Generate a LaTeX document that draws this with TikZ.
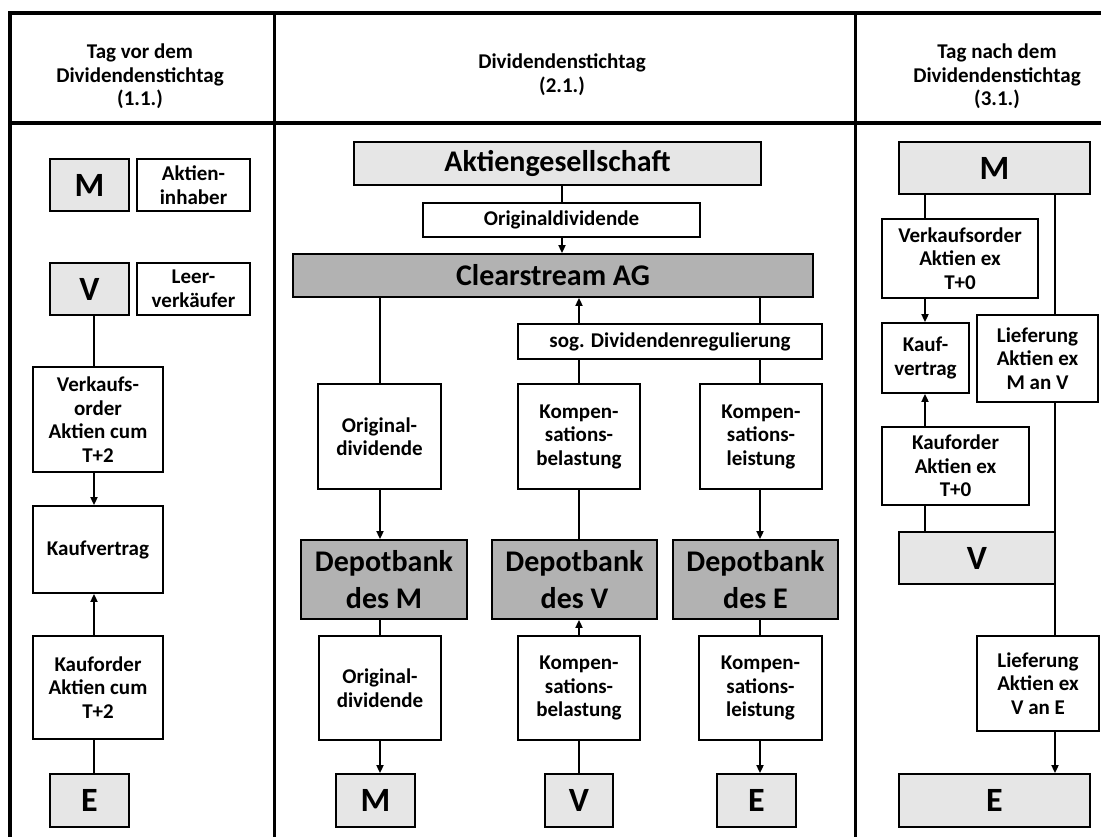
\documentclass[tikz,border=0pt]{standalone}
\usepackage{fontspec}
\setmainfont{Carlito}
\usetikzlibrary{arrows.meta}
\definecolor{lightg}{RGB}{230,230,230}
\definecolor{darkg}{RGB}{178,178,178}
\tikzset{
  box/.style={draw=black, line width=1.8pt, fill=white, align=center, inner sep=1pt,
    font=\bfseries\fontsize{21}{23.5}\selectfont},
  lbox/.style={box, fill=lightg, font=\bfseries\fontsize{34}{38}\selectfont},
  bigl/.style={box, fill=lightg, font=\bfseries\fontsize{30}{37}\selectfont},
  bigd/.style={box, fill=darkg, font=\bfseries\fontsize{30}{37}\selectfont},
  conn/.style={line width=1.8pt},
  arr/.style={line width=1.8pt, -{Triangle[length=8pt,width=7pt]}},
  frame/.style={line width=3.5pt},
  divider/.style={line width=3pt},
  htext/.style={align=center, inner sep=0pt, font=\bfseries\fontsize{21}{23.5}\selectfont}
}
\begin{document}
\begin{tikzpicture}[x=1pt,y=-1pt]
\useasboundingbox (0,0) rectangle (1101,837);
\clip (0,0) rectangle (1101,837);
% frame
\draw[frame] (8.25,13) -- (1105,13);
\draw[frame] (8.25,123) -- (1105,123);
\draw[frame] (10,11.25) -- (10,840);
\draw[divider] (274,13) -- (274,840);
\draw[divider] (855,13) -- (855,840);
% headers
\node[htext] (h1) at (140,76.5) {Tag vor dem\\Dividendenstichtag\\(1.1.)};
\node[htext] (h2) at (562,74.5) {Dividendenstichtag\\(2.1.)};
\node[htext] (h3) at (997,76.5) {Tag nach dem\\Dividendenstichtag\\(3.1.)};
% column line helpers
\coordinate (cL) at (94,0);
\coordinate (cA) at (562,0);
\coordinate (c1) at (380,0);
\coordinate (c2) at (579,0);
\coordinate (c3) at (760,0);
\coordinate (cR1) at (925,0);
\coordinate (cR2) at (1055,0);
% left column
\node[lbox, minimum width=79pt, minimum height=52pt] (lM) at (89.5,185) {M};
\node[box, minimum width=113pt, minimum height=52pt] (lMt) at (193.5,185) {Aktien-\\inhaber};
\node[lbox, minimum width=79pt, minimum height=52pt] (lV) at (89.5,289) {V};
\node[box, minimum width=113pt, minimum height=52pt] (lVt) at (193.5,289) {Leer-\\verkäufer};
\node[box, minimum width=130pt, minimum height=105pt] (lVO) at (98,419.5) {Verkaufs-\\order\\Aktien cum\\T+2};
\node[box, minimum width=130pt, minimum height=87pt] (lKV) at (98,549.5) {Kaufvertrag};
\node[box, minimum width=130pt, minimum height=103pt] (lKO) at (98,687.5) {Kauforder\\Aktien cum\\T+2};
\node[lbox, minimum width=79pt, minimum height=53pt] (lE) at (89.5,800.5) {E};
\draw[conn] (lV.south -| cL) -- (lVO.north -| cL);
\draw[arr] (lVO.south -| cL) -- (lKV.north -| cL);
\draw[arr] (lKO.north -| cL) -- (lKV.south -| cL);
\draw[conn] (lE.north -| cL) -- (lKO.south -| cL);
% middle column
\node[bigl, minimum width=407pt, minimum height=43pt] (akt) at (557.5,163.5) {Aktiengesellschaft};
\node[box, minimum width=277pt, minimum height=34pt] (od0) at (561.5,220) {Originaldividende};
\node[bigd, minimum width=520pt, minimum height=43pt] (cs) at (553,275.5) {Clearstream AG};
\node[box, minimum width=304pt, minimum height=35pt] (sog) at (670,341.5) {sog. Dividendenregulierung};
\node[box, minimum width=123pt, minimum height=105pt] (od1) at (379.5,436.5) {Original-\\dividende};
\node[box, minimum width=122pt, minimum height=105pt] (kb1) at (579,436.5) {Kompen-\\sations-\\belastung};
\node[box, minimum width=122pt, minimum height=105pt] (kl1) at (761,436.5) {Kompen-\\sations-\\leistung};
\node[bigd, minimum width=166pt, minimum height=79pt] (dm) at (384,579.5) {Depotbank\\des M};
\node[bigd, minimum width=165pt, minimum height=79pt] (dv) at (574.5,579.5) {Depotbank\\des V};
\node[bigd, minimum width=165pt, minimum height=79pt] (de) at (755.5,579.5) {Depotbank\\des E};
\node[box, minimum width=122pt, minimum height=104pt] (od2) at (380,688) {Original-\\dividende};
\node[box, minimum width=122pt, minimum height=104pt] (kb2) at (579,688) {Kompen-\\sations-\\belastung};
\node[box, minimum width=123pt, minimum height=104pt] (kl2) at (760.5,688) {Kompen-\\sations-\\leistung};
\node[lbox, minimum width=79pt, minimum height=53pt] (mm) at (375.5,800.5) {M};
\node[lbox, minimum width=68pt, minimum height=53pt] (mv) at (579,800.5) {V};
\node[lbox, minimum width=79pt, minimum height=53pt] (me) at (756.5,800.5) {E};
\draw[conn] (akt.south -| cA) -- (od0.north -| cA);
\draw[arr] (od0.south -| cA) -- (cs.north -| cA);
\draw[conn] (cs.south -| c1) -- (od1.north -| c1);
\draw[arr] (od1.south -| c1) -- (dm.north -| c1);
\draw[conn] (dm.south -| c1) -- (od2.north -| c1);
\draw[arr] (od2.south -| c1) -- (mm.north -| c1);
\draw[arr] (sog.north -| c2) -- (cs.south -| c2);
\draw[conn] (kb1.north -| c2) -- (sog.south -| c2);
\draw[conn] (kb1.south -| c2) -- (dv.north -| c2);
\draw[arr] (kb2.north -| c2) -- (dv.south -| c2);
\draw[conn] (mv.north -| c2) -- (kb2.south -| c2);
\draw[conn] (cs.south -| c3) -- (sog.north -| c3);
\draw[conn] (sog.south -| c3) -- (kl1.north -| c3);
\draw[arr] (kl1.south -| c3) -- (de.north -| c3);
\draw[conn] (de.south -| c3) -- (kl2.north -| c3);
\draw[arr] (kl2.south -| c3) -- (me.north -| c3);
% right column
\node[lbox, minimum width=191pt, minimum height=52pt] (rM) at (994.5,168) {M};
\node[box, minimum width=156pt, minimum height=79pt] (rVO) at (960,258.5) {Verkaufsorder\\Aktien ex\\T+0};
\node[box, minimum width=87pt, minimum height=70pt] (rKV) at (925.5,358) {Kauf-\\vertrag};
\node[box, minimum width=147pt, minimum height=78pt] (rKO) at (955.5,466) {Kauforder\\Aktien ex\\T+0};
\node[lbox, minimum width=156pt, minimum height=52pt] (rV) at (977,558) {V};
\node[box, minimum width=121pt, minimum height=87pt] (rL1) at (1037.5,358.5) {Lieferung\\Aktien ex\\M an V};
\node[box, minimum width=122pt, minimum height=95pt] (rL2) at (1038,683.5) {Lieferung\\Aktien ex\\V an E};
\node[lbox, minimum width=191pt, minimum height=53pt] (rE) at (994.5,800.5) {E};
\draw[conn] (rM.south -| cR1) -- (rVO.north -| cR1);
\draw[arr] (rVO.south -| cR1) -- (rKV.north -| cR1);
\draw[arr] (rKO.north -| cR1) -- (rKV.south -| cR1);
\draw[conn] (rV.north -| cR1) -- (rKO.south -| cR1);
\draw[conn] (rM.south -| cR2) -- (rL1.north -| cR2);
\draw[conn] (rL1.south -| cR2) -- (rL2.north -| cR2);
\draw[arr] (rL2.south -| cR2) -- (rE.north -| cR2);
\end{tikzpicture}
\end{document}
